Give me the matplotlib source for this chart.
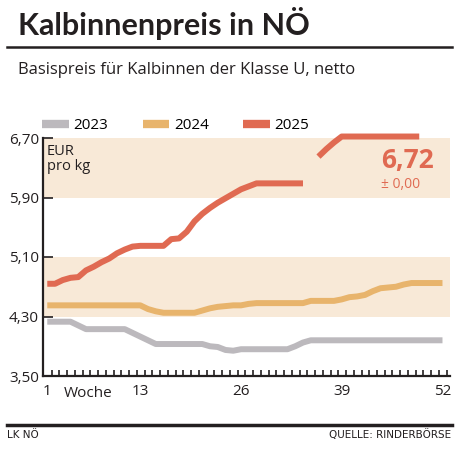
import matplotlib
matplotlib.use("Agg")
import matplotlib.pyplot as plt
import numpy as np

plt.rcParams['font.family'] = ['Open Sans', 'DejaVu Sans']

# data (EUR/kg, weeks 1..52)
weeks = np.arange(1, 53)
p2023 = [4.23, 4.23, 4.23, 4.23, 4.18, 4.13, 4.13, 4.13, 4.13, 4.13,
         4.13, 4.08, 4.03, 3.98, 3.93, 3.93, 3.93, 3.93, 3.93, 3.93,
         3.93, 3.90, 3.89, 3.85, 3.84, 3.86, 3.86, 3.86, 3.86, 3.86,
         3.86, 3.86, 3.90, 3.95, 3.98, 3.98, 3.98, 3.98, 3.98, 3.98,
         3.98, 3.98, 3.98, 3.98, 3.98, 3.98, 3.98, 3.98, 3.98, 3.98,
         3.98, 3.98]
p2024 = [4.45, 4.45, 4.45, 4.45, 4.45, 4.45, 4.45, 4.45, 4.45, 4.45,
         4.45, 4.45, 4.45, 4.40, 4.37, 4.35, 4.35, 4.35, 4.35, 4.35,
         4.38, 4.41, 4.43, 4.44, 4.45, 4.45, 4.47, 4.48, 4.48, 4.48,
         4.48, 4.48, 4.48, 4.48, 4.51, 4.51, 4.51, 4.51, 4.53, 4.56,
         4.57, 4.59, 4.64, 4.68, 4.69, 4.70, 4.73, 4.75, 4.75, 4.75,
         4.75, 4.75]
nan = np.nan
p2025 = [4.74, 4.74, 4.79, 4.82, 4.83, 4.92, 4.97, 5.03, 5.08, 5.15,
         5.20, 5.24, 5.25, 5.25, 5.25, 5.25, 5.34, 5.35, 5.44, 5.58,
         5.68, 5.76, 5.83, 5.89, 5.95, 6.01, 6.05, 6.09, 6.09, 6.09,
         6.09, 6.09, 6.09, 6.09, nan, 6.45, 6.55, 6.64, 6.72, 6.72,
         6.72, 6.72, 6.72, 6.72, 6.72, 6.72, 6.72, 6.72, 6.72, nan,
         nan, nan]
years = ['2023', '2024', '2025']
colors = ['#bcb9bd', '#e8b46c', '#e06a52']
yticks = [3.50, 4.30, 5.10, 5.90, 6.70]
xticks = [1, 13, 26, 39, 52]

fig = plt.figure(figsize=(4.68, 4.57), dpi=100)
ax = fig.add_axes([43/468, 1-376/457, 407/468, 238/457])

ax.axhspan(5.90, 6.70, color='#f8e9d7', lw=0, zorder=0)
ax.axhspan(4.30, 5.10, color='#f8e9d7', lw=0, zorder=0)

for vals, c, lab in zip([p2023, p2024, p2025], colors, years):
    ax.plot(weeks, vals, color=c, lw=4.3, solid_capstyle='butt',
            solid_joinstyle='round', label=lab, zorder=3, clip_on=False)

ax.set_xlim(0.45, 52.97)
ax.set_ylim(3.50, 6.70)
ax.set_yticks(yticks)
ax.set_yticklabels([f'{v:.2f}'.replace('.', ',') for v in yticks])
ax.set_xticks(xticks)
ax.set_xticklabels([str(v) for v in xticks])
ax.set_xticks(np.arange(1.55, 53, 1), minor=True)
ax.tick_params(axis='y', direction='in', length=7, width=1.2, labelsize=11,
               pad=3, colors='#231f20')
ax.tick_params(axis='x', which='major', length=0, labelsize=11, pad=6,
               colors='#231f20')
ax.tick_params(axis='x', which='minor', direction='in', length=4, width=1.2,
               colors='#231f20')
for s in ['top', 'right']:
    ax.spines[s].set_visible(False)
for s in ['left', 'bottom']:
    ax.spines[s].set_linewidth(1.6)
    ax.spines[s].set_color('#231f20')

ax.text(0.01, 0.975, 'EUR\npro kg', transform=ax.transAxes, fontsize=10.5,
        va='top', ha='left', color='#231f20', linespacing=1.0)
ax.text(6.3, 3.36, 'Woche', fontsize=11, ha='center', va='top',
        color='#231f20', transform=ax.transData)
ax.text(47.5, 6.40, '6,72', fontsize=19, fontweight='bold', color='#e06a52',
        ha='center', va='center')
ax.text(46.6, 6.07, '± 0,00', fontsize=10, color='#e06a52', ha='center',
        va='center')

leg = fig.legend(loc='upper left', bbox_to_anchor=(36/468, 1-112/457),
                 ncol=3, frameon=False, fontsize=11, handlelength=1.75,
                 handletextpad=0.3, columnspacing=2.25, borderaxespad=0)
for h in leg.get_lines():
    h.set_linewidth(6)

fig.text(18/468, 1-23/457, 'Kalbinnenpreis in NÖ', fontsize=22,
         fontweight='bold', va='center', ha='left', color='#231f20',
         family=['Lato', 'DejaVu Sans'])
fig.add_artist(plt.Line2D([7/468, 452/468], [1-47/457, 1-47/457],
                          color='#231f20', lw=1.8))
fig.text(18/468, 1-70/457, 'Basispreis für Kalbinnen der Klasse U, netto',
         fontsize=12, va='center', ha='left', color='#231f20')
fig.add_artist(plt.Line2D([7/468, 452/468], [1-425/457, 1-425/457],
                          color='#231f20', lw=2.5))
fig.text(7/468, 1-435/457, 'LK NÖ', fontsize=7.5, va='center', ha='left',
         color='#231f20', family=['Liberation Sans Narrow', 'DejaVu Sans'])
fig.text(451/468, 1-435/457, 'QUELLE: RINDERBÖRSE', fontsize=7.5,
         va='center', ha='right', color='#231f20',
         family=['Liberation Sans Narrow', 'DejaVu Sans'])

fig.savefig('out.png', dpi=100)
